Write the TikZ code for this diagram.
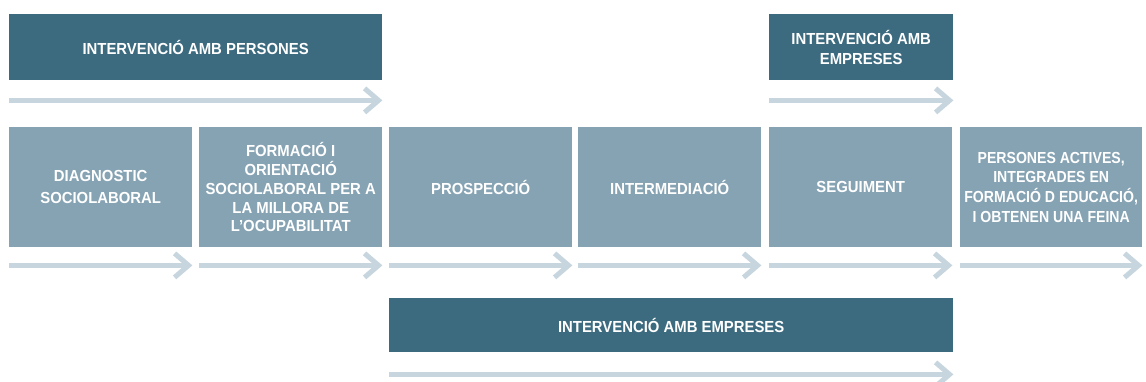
\documentclass[tikz,border=0pt]{standalone}
\usepackage{fontspec}
\setmainfont{Liberation Sans}
\newfontfamily\labfont[FakeStretch=0.93]{Liberation Sans}
\newfontfamily\labnarrow[FakeStretch=0.88]{Liberation Sans}
\usetikzlibrary{arrows.meta}
\definecolor{darkbox}{HTML}{3C6B80}
\definecolor{midbox}{HTML}{86A3B4}
\definecolor{arrowc}{HTML}{C7D5DF}
\tikzset{
  box/.style={anchor=north west, inner sep=0pt, text=white, align=center,
    font=\labfont\bfseries\fontsize{16}{19.5}\selectfont},
  darkb/.style={box, fill=darkbox},
  midb/.style={box, fill=midbox, minimum width=183pt, minimum height=120pt},
  flow/.style={arrowc, line width=5pt, -{Straight Barb[length=14pt, width=24pt, line width=5pt]}},
}
\begin{document}
\begin{tikzpicture}[x=1pt,y=-1pt]
\useasboundingbox (0,0) rectangle (1146,382);
% top boxes
\node[darkb, minimum width=373pt, minimum height=66pt] (tp) at (9,14) {INTERVENCIÓ AMB PERSONES};
\node[darkb, minimum width=184pt, minimum height=66pt, font=\labfont\bfseries\fontsize{16}{20}\selectfont] (te) at (769,14) {INTERVENCIÓ AMB\\EMPRESES};
% middle boxes
\node[midb, font=\labfont\bfseries\fontsize{16}{22}\selectfont] (b1) at (9,127) {DIAGNOSTIC\\SOCIOLABORAL};
\node[midb, font=\labfont\bfseries\fontsize{16}{18.8}\selectfont] (b2) at (199,127) {FORMACIÓ I\\ORIENTACIÓ\\SOCIOLABORAL PER A\\LA MILLORA DE\\L’OCUPABILITAT};
\node[midb] (b3) at (389,127) {PROSPECCIÓ};
\node[midb] (b4) at (578,127) {INTERMEDIACIÓ};
\node[midb] (b5) at (769,127) {SEGUIMENT};
\node[midb, minimum width=182pt, font=\labnarrow\bfseries\fontsize{16}{19.6}\selectfont] (b6) at (960,127) {PERSONES ACTIVES,\\INTEGRADES EN\\FORMACIÓ D EDUCACIÓ,\\I OBTENEN UNA FEINA};
% bottom box
\node[darkb, minimum width=564pt, minimum height=54pt] (be) at (389,298) {INTERVENCIÓ AMB EMPRESES};
% arrows
\draw[flow] ([yshift=-20pt]tp.south west) -- ([yshift=-20pt]tp.south east);
\draw[flow] ([yshift=-20pt]te.south west) -- ([yshift=-20pt]te.south east);
\foreach \b in {b1,b2,b3,b4,b5,b6}{
  \draw[flow] ([yshift=-18pt]\b.south west) -- ([yshift=-18pt]\b.south east);
}
\draw[flow] ([yshift=-22pt]be.south west) -- ([yshift=-22pt]be.south east);
\end{tikzpicture}
\end{document}
